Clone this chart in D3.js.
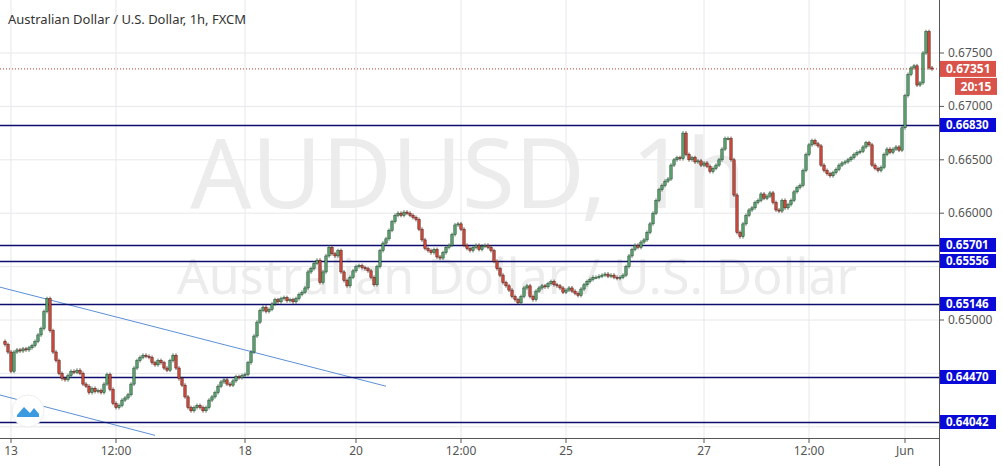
<!DOCTYPE html>
<html><head><meta charset="utf-8">
<script src="https://cdnjs.cloudflare.com/ajax/libs/d3/7.8.5/d3.min.js"></script>
<style>body{margin:0;background:#fff;font-family:"Noto Sans",Arial,sans-serif}</style>
</head><body>
<script>
// hourly closes, in pips (price * 10000)
var closes = [6477,6470,6452,6470,6472,6471,6473,6472,6474,6476,6480,6486,6492,6508,6520,6490,6470,6462,6450,6445,6444,6448,6452,6451,6453,6450,6440,6438,6432,6436,6433,6434,6432,6440,6449,6435,6422,6418,6420,6425,6427,6430,6440,6455,6462,6465,6467,6466,6465,6460,6458,6462,6460,6455,6453,6462,6467,6455,6445,6439,6428,6418,6415,6418,6420,6418,6415,6418,6425,6428,6432,6438,6442,6444,6440,6439,6443,6447,6446,6448,6449,6460,6470,6485,6498,6509,6512,6508,6510,6515,6519,6517,6520,6521,6518,6519,6517,6520,6524,6526,6530,6545,6548,6553,6556,6535,6545,6560,6568,6562,6560,6565,6545,6537,6532,6540,6546,6550,6551,6549,6548,6546,6540,6533,6550,6565,6572,6576,6584,6592,6598,6600,6598,6601,6600,6598,6596,6594,6585,6575,6567,6565,6563,6566,6559,6558,6563,6568,6570,6580,6589,6590,6585,6570,6567,6565,6568,6570,6566,6569,6570,6568,6565,6555,6548,6542,6535,6532,6528,6522,6519,6516,6522,6530,6532,6522,6519,6527,6530,6532,6531,6534,6536,6533,6532,6530,6526,6528,6530,6527,6525,6523,6529,6533,6536,6538,6540,6540,6541,6542,6543,6541,6542,6540,6539,6540,6542,6550,6560,6566,6570,6568,6573,6575,6582,6590,6600,6612,6622,6626,6630,6632,6645,6650,6652,6651,6675,6655,6650,6652,6648,6649,6645,6647,6644,6639,6642,6645,6650,6660,6670,6670,6650,6617,6582,6578,6590,6598,6603,6605,6610,6612,6618,6614,6616,6619,6610,6603,6602,6612,6605,6608,6612,6620,6624,6626,6640,6655,6664,6668,6665,6663,6645,6640,6637,6635,6638,6641,6645,6647,6648,6650,6652,6655,6657,6658,6662,6666,6664,6645,6642,6640,6643,6655,6660,6657,6660,6662,6659,6680,6710,6730,6736,6738,6720,6722,6750,6770,6736,6735.1];
var levels = [0.66830, 0.65701, 0.65556, 0.65146, 0.64470, 0.64042];
var lastPrice = 0.67351;
var priceTicks = [0.640,0.645,0.650,0.655,0.660,0.665,0.670,0.675];
var priceTickLabels = [0.650,0.660,0.665,0.670,0.675];
var timeTicks = [{i:2,t:"13"},{i:37,t:"12:00"},{i:80,t:"18"},{i:117,t:"20"},{i:152,t:"12:00"},{i:187,t:"25"},{i:233,t:"27"},{i:268,t:"12:00"},{i:300,t:"Jun"}];
// trend lines: [candle index, price]
var trend1 = [[-2,0.6531],[127,0.6438]];
var trend2 = [[-2,0.6430],[50,0.6392]];

var W = 1003, H = 466, plotR = 939, plotB = 438;
var svg = d3.select("body").append("svg").attr("width",W).attr("height",H);

var x = d3.scaleLinear().domain([0,1]).range([5,8]);
var y = d3.scaleLinear().domain([0.65,0.675]).range([320,53]);

var candles = closes.map(function(c,i){
	var o = i==0 ? 6480 : closes[i-1];
	return {i:i, o:o/10000, c:c/10000, h:Math.max(o,c)/10000+0.00018, l:Math.min(o,c)/10000-0.00018};
});

var g = svg.append("g");
g.selectAll(".hg").data(priceTicks).enter().append("line")
	.attr("x1",0).attr("x2",plotR).attr("y1",function(d){return y(d)}).attr("y2",function(d){return y(d)})
	.attr("stroke","#e8e8ec");
g.selectAll(".vg").data(timeTicks).enter().append("line")
	.attr("x1",function(d){return x(d.i)}).attr("x2",function(d){return x(d.i)})
	.attr("y1",0).attr("y2",plotB).attr("stroke","#e8e8ec");

// watermark
g.append("text").attr("x",468).attr("y",208).attr("text-anchor","middle")
	.attr("font-size",96).attr("fill","#ececec").text("AUDUSD, 1h");
g.append("text").attr("x",517).attr("y",294).attr("text-anchor","middle")
	.attr("font-size",50).attr("fill","#ececec").text("Australian Dollar / U.S. Dollar");

// trend lines
[trend1,trend2].forEach(function(t){
	g.append("line").attr("x1",x(t[0][0])).attr("y1",y(t[0][1])).attr("x2",x(t[1][0])).attr("y2",y(t[1][1]))
		.attr("stroke","#5d8fd8").attr("stroke-width",1);
});

// levels
g.selectAll(".lv").data(levels).enter().append("line")
	.attr("x1",0).attr("x2",plotR).attr("y1",function(d){return Math.round(y(d))+0.5}).attr("y2",function(d){return Math.round(y(d))+0.5})
	.attr("stroke","#0d0d6e").attr("stroke-width",1.3);

// candles
var cg = g.selectAll(".c").data(candles).enter().append("g");
cg.append("line").attr("x1",function(d){return x(d.i)}).attr("x2",function(d){return x(d.i)})
	.attr("y1",function(d){return y(d.h)}).attr("y2",function(d){return y(d.l)})
	.attr("stroke",function(d){return d.c>=d.o?"#2f5f3d":"#5a2a20"}).attr("stroke-width",0.8);
cg.append("rect").attr("x",function(d){return x(d.i)-1.2}).attr("width",2.4)
	.attr("y",function(d){return y(Math.max(d.o,d.c))})
	.attr("height",function(d){return Math.max(1,Math.abs(y(d.o)-y(d.c)))})
	.attr("fill",function(d){return d.c>=d.o?"#5aa470":"#d04a3a"})
	.attr("stroke",function(d){return d.c>=d.o?"#1f3f28":"#4a1a14"}).attr("stroke-width",0.5);

// last price dotted line
g.append("line").attr("x1",0).attr("x2",plotR).attr("y1",y(lastPrice)).attr("y2",y(lastPrice))
	.attr("stroke","#c0392b").attr("stroke-dasharray","1,2");

// axes frame
svg.append("line").attr("x1",plotR+0.5).attr("x2",plotR+0.5).attr("y1",0).attr("y2",H).attr("stroke","#555");
svg.append("line").attr("x1",0).attr("x2",plotR).attr("y1",plotB+0.5).attr("y2",plotB+0.5).attr("stroke","#555");

var ax = svg.append("g").attr("font-size",12).attr("fill","#555");
priceTickLabels.forEach(function(d){
	ax.append("line").attr("x1",plotR).attr("x2",plotR+5).attr("y1",y(d)).attr("y2",y(d)).attr("stroke","#555");
	ax.append("text").attr("x",948).attr("y",y(d)+4).text(d.toFixed(5));
});
timeTicks.forEach(function(d){
	ax.append("line").attr("x1",x(d.i)).attr("x2",x(d.i)).attr("y1",plotB).attr("y2",plotB+5).attr("stroke","#555");
	ax.append("text").attr("x",x(d.i)).attr("y",455).attr("text-anchor","middle").text(d.t);
});

// level labels
levels.forEach(function(d){
	var yy = Math.round(y(d));
	ax.append("rect").attr("x",plotR+1).attr("y",yy-7).attr("width",56).attr("height",14).attr("fill","#0a0ad8");
	ax.append("text").attr("x",946).attr("y",yy+4).attr("fill","#fff").attr("font-size",11.5).attr("font-weight","bold").text(d.toFixed(5));
});
var ly = y(lastPrice);
ax.append("rect").attr("x",plotR+1).attr("y",ly-8).attr("width",56).attr("height",16).attr("fill","#d9534a");
ax.append("text").attr("x",946).attr("y",ly+4).attr("fill","#fff").attr("font-weight","bold").text("0.67351");
ax.append("rect").attr("x",955).attr("y",ly+9).attr("width",42).attr("height",17).attr("fill","#d9534a");
ax.append("text").attr("x",976).attr("y",ly+22).attr("text-anchor","middle").attr("fill","#fff").attr("font-weight","bold").text("20:15");

// title
svg.append("text").attr("x",8).attr("y",24).attr("font-size",13).attr("fill","#333")
	.text("Australian Dollar / U.S. Dollar, 1h, FXCM");

// logo
var lg = svg.append("g").attr("transform","translate(28,411)");
lg.append("circle").attr("r",16).attr("fill","#fff").attr("stroke","#eee");
lg.append("path").attr("d","M-11,4 L-4,-4 L2,2 L6,-3 L11,3 L11,6 L-11,6 Z").attr("fill","#3b9be0");
</script>
</body></html>
